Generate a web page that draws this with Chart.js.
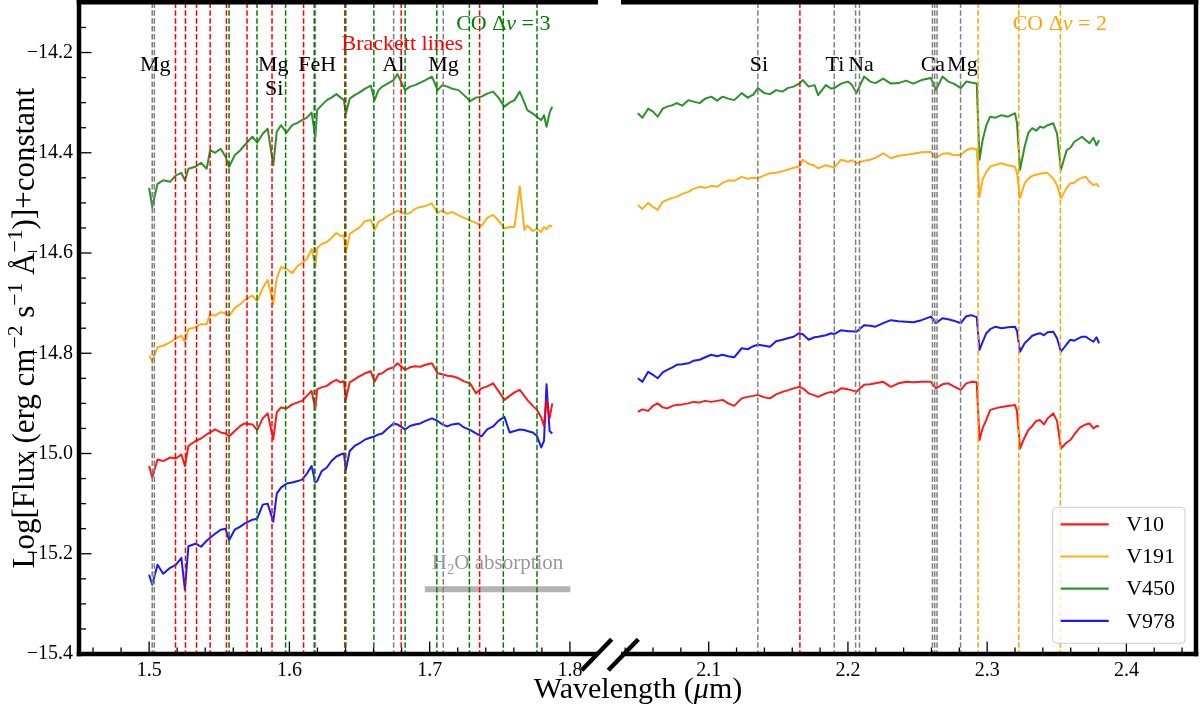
<!DOCTYPE html>
<html><head><meta charset="utf-8">
<script src="https://cdn.jsdelivr.net/npm/chart.js@4.4.1/dist/chart.umd.min.js"></script>
<style>
html,body{margin:0;padding:0;background:#fff;}
#wrap{position:relative;width:1200px;height:706px;background:#fff;}
canvas{position:absolute;left:0;top:0;}
</style></head><body>
<div id="wrap"><canvas id="cL" width="1200" height="706"></canvas><canvas id="cR" width="1200" height="706"></canvas></div>
<script>
// ---------------- DATA ----------------
const seriesNames = ['V10','V191','V450','V978'];
const seriesColors = ['rgba(255,0,0,0.9)','rgba(255,165,0,0.9)','rgba(34,139,34,0.95)','rgba(0,0,255,0.9)'];

// H band (left panel) wavelengths, micron
const lamL = [1.500,1.5022,1.506,1.510,1.515,1.519,1.523,1.5255,1.528,1.533,
1.537,1.541,1.5435,1.547,1.551,1.5545,1.557,1.561,1.565,1.568,
1.5736,1.577,1.581,1.5845,1.5885,1.591,1.594,1.598,1.602,1.606,
1.609,1.6125,1.6158,1.6185,1.6198,1.623,1.6267,1.630,1.6335,1.6365,
1.6389,1.6402,1.643,1.6465,1.6498,1.654,1.658,1.6607,1.6635,1.6662,
1.670,1.6743,1.677,1.6825,1.686,1.6895,1.6934,1.697,1.7016,1.7057,
1.709,1.7125,1.716,1.7206,1.7245,1.7288,1.733,1.737,1.741,1.7452,
1.749,1.7533,1.757,1.7605,1.7642,1.7675,1.7696,1.7735,1.7765,1.7795,
1.7815,1.7833,1.7855,1.7874];
const V10_L = [-15.025,-15.048,-15.012,-15.015,-15.008,-15.010,-15.002,-15.025,-14.985,-14.975,
-14.970,-14.962,-14.958,-14.952,-14.958,-14.960,-14.966,-14.955,-14.945,-14.940,
-14.942,-14.953,-14.930,-14.920,-14.972,-14.918,-14.908,-14.910,-14.902,-14.898,
-14.895,-14.885,-14.875,-14.912,-14.872,-14.868,-14.865,-14.858,-14.853,-14.858,
-14.856,-14.893,-14.858,-14.852,-14.846,-14.840,-14.836,-14.857,-14.842,-14.840,
-14.832,-14.828,-14.820,-14.833,-14.828,-14.826,-14.827,-14.823,-14.820,-14.840,
-14.842,-14.845,-14.846,-14.850,-14.856,-14.860,-14.880,-14.870,-14.866,-14.860,
-14.875,-14.893,-14.885,-14.878,-14.873,-14.885,-14.893,-14.905,-14.913,-14.928,
-14.945,-14.893,-14.930,-14.900];
const V191_L = [-14.805,-14.815,-14.788,-14.785,-14.778,-14.770,-14.765,-14.778,-14.752,-14.748,
-14.742,-14.742,-14.722,-14.725,-14.718,-14.720,-14.726,-14.710,-14.702,-14.694,
-14.685,-14.696,-14.670,-14.654,-14.702,-14.650,-14.628,-14.632,-14.640,-14.625,
-14.620,-14.612,-14.592,-14.626,-14.590,-14.582,-14.578,-14.570,-14.560,-14.566,
-14.565,-14.600,-14.562,-14.555,-14.550,-14.536,-14.534,-14.554,-14.538,-14.534,
-14.526,-14.520,-14.516,-14.522,-14.520,-14.512,-14.508,-14.506,-14.501,-14.520,
-14.515,-14.522,-14.518,-14.525,-14.530,-14.535,-14.540,-14.546,-14.530,-14.524,
-14.535,-14.551,-14.548,-14.548,-14.467,-14.554,-14.545,-14.556,-14.552,-14.558,
-14.548,-14.552,-14.545,-14.547];
const V450_L = [-14.470,-14.508,-14.462,-14.455,-14.458,-14.445,-14.440,-14.455,-14.432,-14.428,
-14.420,-14.432,-14.395,-14.400,-14.392,-14.408,-14.428,-14.405,-14.395,-14.385,
-14.368,-14.380,-14.362,-14.352,-14.425,-14.358,-14.345,-14.360,-14.345,-14.340,
-14.335,-14.330,-14.320,-14.368,-14.315,-14.305,-14.295,-14.290,-14.283,-14.290,
-14.295,-14.322,-14.292,-14.285,-14.280,-14.272,-14.266,-14.295,-14.275,-14.268,
-14.262,-14.255,-14.243,-14.275,-14.268,-14.265,-14.260,-14.255,-14.248,-14.275,
-14.265,-14.268,-14.272,-14.275,-14.285,-14.297,-14.290,-14.288,-14.282,-14.278,
-14.290,-14.308,-14.300,-14.295,-14.278,-14.300,-14.315,-14.322,-14.328,-14.335,
-14.325,-14.348,-14.320,-14.308];
const V978_L = [-15.242,-15.262,-15.222,-15.240,-15.228,-15.222,-15.208,-15.272,-15.185,-15.180,
-15.186,-15.174,-15.168,-15.160,-15.152,-15.150,-15.173,-15.152,-15.146,-15.140,
-15.132,-15.130,-15.102,-15.100,-15.136,-15.080,-15.068,-15.060,-15.058,-15.055,
-15.052,-15.040,-15.025,-15.058,-15.055,-15.035,-15.028,-15.015,-15.006,-15.002,
-15.000,-15.033,-14.995,-14.985,-14.980,-14.972,-14.968,-14.966,-14.962,-14.960,
-14.950,-14.940,-14.942,-14.952,-14.945,-14.942,-14.940,-14.935,-14.930,-14.935,
-14.942,-14.946,-14.942,-14.940,-14.948,-14.953,-14.960,-14.966,-14.952,-14.946,
-14.935,-14.927,-14.958,-14.955,-14.952,-14.953,-14.955,-14.958,-14.965,-14.988,
-14.975,-14.862,-14.955,-14.960];

// K band (right panel) wavelengths, micron
const lamR = [2.0491,2.0524,2.0565,2.0600,2.0633,2.0670,2.0702,2.0740,2.0770,2.0810,
2.0853,2.0890,2.0935,2.0975,2.1018,2.1060,2.1100,2.1140,2.1183,2.1237,
2.1280,2.1320,2.1353,2.1400,2.1440,2.1484,2.1530,2.1567,2.1610,2.1649,
2.1676,2.1718,2.1760,2.1786,2.1841,2.1880,2.1902,2.1951,2.2000,2.2030,
2.2061,2.2116,2.2160,2.2198,2.2253,2.2308,2.2363,2.2418,2.2470,2.2528,
2.2596,2.2632,2.2679,2.2720,2.2760,2.2811,2.2850,2.2885,2.2925,2.2945,
2.2967,2.2994,2.3022,2.3060,2.3104,2.3150,2.3200,2.3214,2.3236,2.3269,
2.3296,2.3324,2.3352,2.3379,2.3407,2.3434,2.3475,2.3502,2.3530,2.3571,
2.3598,2.3626,2.3660,2.3681,2.3709,2.3735,2.3763,2.3785,2.3804];
const V10_R = [-14.917,-14.912,-14.915,-14.905,-14.900,-14.908,-14.910,-14.905,-14.903,-14.902,
-14.900,-14.897,-14.898,-14.895,-14.897,-14.895,-14.893,-14.900,-14.905,-14.890,
-14.887,-14.885,-14.883,-14.888,-14.890,-14.882,-14.877,-14.874,-14.870,-14.867,
-14.870,-14.880,-14.884,-14.887,-14.880,-14.877,-14.879,-14.870,-14.872,-14.874,
-14.877,-14.863,-14.862,-14.860,-14.857,-14.867,-14.860,-14.857,-14.858,-14.857,
-14.857,-14.870,-14.862,-14.860,-14.866,-14.873,-14.860,-14.857,-14.858,-14.973,
-14.950,-14.933,-14.913,-14.910,-14.907,-14.905,-14.903,-14.915,-14.990,-14.968,
-14.953,-14.945,-14.935,-14.933,-14.942,-14.930,-14.920,-14.935,-14.990,-14.978,
-14.973,-14.962,-14.950,-14.946,-14.942,-14.940,-14.950,-14.945,-14.946];
const V191_R = [-14.504,-14.512,-14.500,-14.508,-14.514,-14.498,-14.494,-14.490,-14.488,-14.482,
-14.478,-14.472,-14.468,-14.470,-14.466,-14.468,-14.460,-14.455,-14.456,-14.448,
-14.452,-14.450,-14.451,-14.445,-14.441,-14.440,-14.437,-14.434,-14.430,-14.428,
-14.414,-14.422,-14.426,-14.431,-14.425,-14.428,-14.429,-14.414,-14.418,-14.415,
-14.421,-14.416,-14.414,-14.410,-14.401,-14.411,-14.406,-14.404,-14.402,-14.399,
-14.398,-14.411,-14.402,-14.401,-14.405,-14.404,-14.395,-14.391,-14.393,-14.488,
-14.454,-14.438,-14.428,-14.424,-14.421,-14.425,-14.428,-14.440,-14.490,-14.461,
-14.452,-14.446,-14.444,-14.442,-14.441,-14.440,-14.452,-14.465,-14.491,-14.470,
-14.461,-14.460,-14.452,-14.450,-14.448,-14.458,-14.465,-14.462,-14.468];
const V450_R = [-14.321,-14.330,-14.312,-14.318,-14.328,-14.312,-14.308,-14.305,-14.301,-14.306,
-14.295,-14.298,-14.301,-14.292,-14.288,-14.296,-14.288,-14.292,-14.295,-14.281,
-14.290,-14.284,-14.271,-14.281,-14.283,-14.275,-14.278,-14.271,-14.268,-14.262,
-14.255,-14.268,-14.265,-14.285,-14.265,-14.272,-14.271,-14.262,-14.258,-14.265,
-14.281,-14.248,-14.258,-14.261,-14.252,-14.262,-14.261,-14.256,-14.262,-14.255,
-14.251,-14.275,-14.248,-14.258,-14.262,-14.271,-14.258,-14.260,-14.262,-14.414,
-14.375,-14.345,-14.328,-14.330,-14.325,-14.328,-14.321,-14.340,-14.434,-14.388,
-14.360,-14.351,-14.356,-14.348,-14.350,-14.345,-14.341,-14.362,-14.434,-14.395,
-14.390,-14.378,-14.372,-14.368,-14.375,-14.381,-14.370,-14.385,-14.375];
const V978_R = [-14.850,-14.857,-14.837,-14.843,-14.850,-14.838,-14.833,-14.828,-14.823,-14.822,
-14.820,-14.815,-14.813,-14.808,-14.803,-14.806,-14.803,-14.806,-14.808,-14.790,
-14.792,-14.786,-14.783,-14.785,-14.787,-14.776,-14.773,-14.770,-14.767,-14.760,
-14.762,-14.773,-14.768,-14.767,-14.764,-14.760,-14.762,-14.754,-14.756,-14.756,
-14.757,-14.744,-14.745,-14.747,-14.740,-14.734,-14.736,-14.737,-14.738,-14.734,
-14.727,-14.740,-14.730,-14.732,-14.735,-14.740,-14.726,-14.724,-14.728,-14.793,
-14.778,-14.760,-14.752,-14.747,-14.750,-14.748,-14.747,-14.755,-14.797,-14.780,
-14.773,-14.765,-14.762,-14.760,-14.764,-14.758,-14.757,-14.770,-14.797,-14.782,
-14.773,-14.775,-14.770,-14.767,-14.767,-14.772,-14.777,-14.768,-14.780];

// H2O absorption band marker
const h2oRange = [1.6965, 1.8003];
const h2oLevel = -15.271;

// Line identifications (vertical dashed lines), micron
const grayL = [1.5022,1.5037,1.6185,1.6743,1.7097];
const brackettL = [1.5188,1.5259,1.5338,1.5435,1.5551,1.5698,1.5876,1.6101,1.6395,1.6797,1.7356];
const co3L = [1.5570,1.5769,1.5973,1.6177,1.6402,1.6602,1.6825,1.7051,1.7283,1.7525,1.7765];
const grayR = [2.1353,2.1902,2.2055,2.2083,2.2607,2.2623,2.2640,2.2809];
const brackettR = [2.1655];
const co2R = [2.2935,2.3227,2.3526];

// Element labels
const labelsL = [['Mg',1.5043,0],['Mg',1.5885,0],['Si',1.5892,1],['FeH',1.6198,0],['Al',1.6741,0],['Mg',1.7098,0]];
const labelsR = [['Si',2.1361,0],['Ti',2.1907,0],['Na',2.2094,0],['Ca',2.2610,0],['Mg',2.2822,0]];

// Axes
const xRangeL = [1.45, 1.82];
const xRangeR = [2.037, 2.45];
const yRange = [-15.4, -14.1];
const xTicksL = [1.5,1.6,1.7,1.8];
const xTicksR = [2.1,2.2,2.3,2.4];
const yTicks = [-15.4,-15.2,-15.0,-14.8,-14.6,-14.4,-14.2];

// ---------------- DRAWING ----------------
const FONT = "'Liberation Serif','Times New Roman','DejaVu Serif',serif";
const SPINE = 4.5;

function fontFor(s,size){ const sz=(s.sup||s.sub)?size*0.7:size; return (s.it?'italic ':'')+sz+'px '+FONT; }
function richWidth(ctx,segs,size){ let w=0; for(const s of segs){ctx.font=fontFor(s,size); w+=ctx.measureText(s.t).width;} return w; }
function drawRich(ctx,segs,x,y,size,color,align){
  const w=richWidth(ctx,segs,size);
  let cx = align==='center'? x-w/2 : x;
  ctx.fillStyle=color; ctx.textAlign='left'; ctx.textBaseline='alphabetic';
  for(const s of segs){ ctx.font=fontFor(s,size); const dy=s.sup?-size*0.38:(s.sub?size*0.22:0); ctx.fillText(s.t,cx,y+dy); cx+=ctx.measureText(s.t).width; }
}

function vlines(ctx,chart,vals,color){
  const a=chart.chartArea, xs=chart.scales.x;
  ctx.save(); ctx.strokeStyle=color; ctx.lineWidth=1.5; ctx.setLineDash([5.5,2.4]);
  for(const v of vals){ const px=xs.getPixelForValue(v); ctx.beginPath(); ctx.moveTo(px,a.top); ctx.lineTo(px,a.bottom); ctx.stroke(); }
  ctx.restore();
}
function xTickMarks(ctx,chart,lo,hi,majors){
  const a=chart.chartArea, xs=chart.scales.x;
  ctx.save(); ctx.strokeStyle='#000'; ctx.lineWidth=1.3;
  for(let k=Math.ceil(lo*50);k<=Math.floor(hi*50);k++){
    const v=k/50; const px=xs.getPixelForValue(v);
    if(px<a.left+1||px>a.right-1) continue;
    const major=majors.some(m=>Math.abs(m-v)<1e-6);
    const len=major?12.5:6.5;
    ctx.beginPath(); ctx.moveTo(px,a.bottom); ctx.lineTo(px,a.bottom-len); ctx.stroke();
  }
  ctx.restore();
}
function yTickMarks(ctx,chart){
  const a=chart.chartArea, ys=chart.scales.y;
  ctx.save(); ctx.strokeStyle='#000'; ctx.lineWidth=1.3;
  for(let k=Math.round(yRange[0]*20);k<=Math.round(yRange[1]*20);k++){
    const v=k/20; const py=ys.getPixelForValue(v);
    if(py<a.top+2||py>a.bottom-1) continue;
    const major=yTicks.some(m=>Math.abs(m-v)<1e-6);
    const len=major?12.5:7;
    ctx.beginPath(); ctx.moveTo(a.left,py); ctx.lineTo(a.left+len,py); ctx.stroke();
  }
  ctx.restore();
}
function breakMark(ctx,cx,cy){
  ctx.save(); ctx.strokeStyle='#000'; ctx.lineWidth=SPINE;
  ctx.beginPath(); ctx.moveTo(cx-15,cy+15.5); ctx.lineTo(cx+15,cy-15.5); ctx.stroke(); ctx.restore();
}
function labelText(ctx,chart,list,base0,size,color){
  const xs=chart.scales.x;
  for(const [t,v,row] of list){ drawRich(ctx,[{t}],xs.getPixelForValue(v),base0+row*24.5,size,color,'center'); }
}

const leftDeco = {
  id:'leftDeco',
  afterDatasetsDraw(chart){
    const ctx=chart.ctx;
    vlines(ctx,chart,grayL,'#808080');
    vlines(ctx,chart,brackettL,'#ff0000');
    vlines(ctx,chart,co3L,'#008000');
  },
  afterDraw(chart){
    const ctx=chart.ctx, a=chart.chartArea, xs=chart.scales.x;
    xTickMarks(ctx,chart,xRangeL[0],xRangeL[1],xTicksL);
    yTickMarks(ctx,chart);
    ctx.fillStyle='#000';
    ctx.fillRect(a.left-SPINE/2,0,SPINE,a.bottom+SPINE/2);
    ctx.fillRect(a.left-SPINE/2,a.bottom-SPINE/2,a.right-a.left+SPINE/2,SPINE);
    ctx.fillRect(a.left-SPINE/2,0,a.right-a.left+SPINE/2,SPINE);
    breakMark(ctx,a.right-1.3,a.bottom+0.7);
    labelText(ctx,chart,labelsL,70.7,22,'#000');
    drawRich(ctx,[{t:'Brackett lines'}],xs.getPixelForValue(1.6805),50,22,'#ff0000','center');
    drawRich(ctx,[{t:'CO \u0394'},{t:'\u03bd',it:true},{t:' = 3'}],xs.getPixelForValue(1.7525),30,22,'#008000','center');
    drawRich(ctx,[{t:'H'},{t:'2',sub:true},{t:'O absorption'}],xs.getPixelForValue((h2oRange[0]+h2oRange[1])/2),569,21,'#999999','center');
    // x-axis title (spans both panels)
    drawRich(ctx,[{t:'Wavelength ('},{t:'\u03bc',it:true},{t:'m)'}],638,698,30,'#000','center');
    // y-axis title
    ctx.save(); ctx.translate(34,(a.top+a.bottom)/2); ctx.rotate(-Math.PI/2);
    drawRich(ctx,[{t:'Log[Flux (erg cm'},{t:'\u22122',sup:true},{t:' s'},{t:'\u22121',sup:true},{t:' \u00c5'},{t:'\u22121',sup:true},{t:')]+constant'}],0,0,31,'#000','center');
    ctx.restore();
  }
};
const rightDeco = {
  id:'rightDeco',
  afterDatasetsDraw(chart){
    const ctx=chart.ctx;
    vlines(ctx,chart,grayR,'#808080');
    vlines(ctx,chart,brackettR,'#ff0000');
    vlines(ctx,chart,co2R,'#ffa500');
  },
  afterDraw(chart){
    const ctx=chart.ctx, a=chart.chartArea, xs=chart.scales.x;
    xTickMarks(ctx,chart,xRangeR[0],xRangeR[1],xTicksR);
    ctx.fillStyle='#000';
    ctx.fillRect(a.right-SPINE/2,0,SPINE,a.bottom+SPINE/2);
    ctx.fillRect(a.left,a.bottom-SPINE/2,a.right-a.left+SPINE/2,SPINE);
    ctx.fillRect(a.left,0,a.right-a.left+SPINE/2,SPINE);
    breakMark(ctx,a.left+2.3,a.bottom+0.7);
    labelText(ctx,chart,labelsR,70.7,22,'#000');
    drawRich(ctx,[{t:'CO \u0394'},{t:'\u03bd',it:true},{t:' = 2'}],xs.getPixelForValue(2.3522),30,22,'#ffa500','center');
    // legend
    const lx=1052.7, ly=507.3, lw=132.3, lh=136;
    ctx.save();
    ctx.fillStyle='rgba(255,255,255,0.8)'; ctx.strokeStyle='#cccccc'; ctx.lineWidth=1;
    ctx.beginPath(); ctx.roundRect(lx,ly,lw,lh,4); ctx.fill(); ctx.stroke();
    seriesNames.forEach((n,i)=>{
      const yy=ly+17+i*32.2;
      ctx.strokeStyle=seriesColors[i]; ctx.lineWidth=2.2; ctx.beginPath(); ctx.moveTo(lx+8,yy); ctx.lineTo(lx+56,yy); ctx.stroke();
      ctx.fillStyle='#000'; ctx.font='22px '+FONT; ctx.textAlign='left'; ctx.textBaseline='middle'; ctx.fillText(n,lx+73.5,yy+1);
    });
    ctx.restore();
  }
};

function mkData(lam,vals){ return lam.map((x,i)=>({x:x,y:vals[i]})); }
function spectra(lam,sets){
  return sets.map((vals,i)=>({label:seriesNames[i],data:mkData(lam,vals),borderColor:seriesColors[i],borderWidth:2,pointRadius:0,tension:0,borderJoinStyle:'round',order:i}));
}
const tickFont={family:FONT,size:20};
function baseX(range,ticks){
  return {type:'linear',min:range[0],max:range[1],
    afterBuildTicks:s=>{s.ticks=ticks.map(v=>({value:v}));},
    afterFit:s=>{s.height=52; s.paddingLeft=0; s.paddingRight=0;},
    grid:{display:false,drawTicks:false},border:{display:false},
    ticks:{font:tickFont,color:'#000',padding:5,maxRotation:0,autoSkip:false,callback:v=>v.toFixed(1)}};
}
const commonPlugins={legend:{display:false},tooltip:{enabled:false}};

const dsL = spectra(lamL,[V10_L,V191_L,V450_L,V978_L]);
dsL.push({label:'H2O',data:[{x:h2oRange[0],y:h2oLevel},{x:h2oRange[1],y:h2oLevel}],borderColor:'rgba(160,160,160,0.8)',borderWidth:6,pointRadius:0,borderCapStyle:'butt',order:10});

new Chart(document.getElementById('cL'),{
  type:'line',
  data:{datasets:dsL},
  options:{responsive:false,animation:false,devicePixelRatio:1,events:[],
    layout:{padding:{left:0,top:2.4,right:602,bottom:0}},
    plugins:commonPlugins,
    scales:{
      x:baseX(xRangeL,xTicksL),
      y:{type:'linear',min:yRange[0],max:yRange[1],
        afterBuildTicks:s=>{s.ticks=yTicks.map(v=>({value:v}));},
        afterFit:s=>{s.width=79; s.paddingTop=0; s.paddingBottom=0;},
        grid:{display:false,drawTicks:false},border:{display:false},
        ticks:{font:tickFont,color:'#000',padding:6,callback:v=>v.toFixed(1).replace('-','\u2212')}}
    }},
  plugins:[leftDeco]
});
new Chart(document.getElementById('cR'),{
  type:'line',
  data:{datasets:spectra(lamR,[V10_R,V191_R,V450_R,V978_R])},
  options:{responsive:false,animation:false,devicePixelRatio:1,events:[],
    layout:{padding:{left:621,top:2.4,right:4,bottom:0}},
    plugins:commonPlugins,
    scales:{
      x:baseX(xRangeR,xTicksR),
      y:{type:'linear',display:false,min:yRange[0],max:yRange[1]}
    }},
  plugins:[rightDeco]
});
</script>
</body></html>
